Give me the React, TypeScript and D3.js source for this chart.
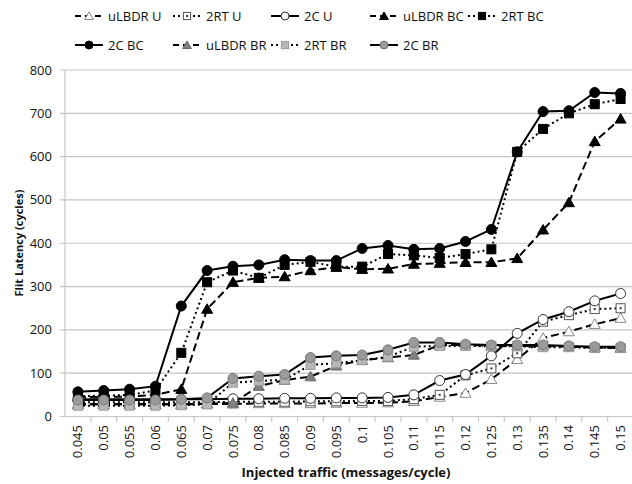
import React from 'react';
import * as d3 from 'd3';

const categories = ["0.045","0.05","0.055","0.06","0.065","0.07","0.075","0.08","0.085","0.09","0.095","0.1","0.105","0.11","0.115","0.12","0.125","0.13","0.135","0.14","0.145","0.15"];

const uLBDR_U = [28,28,28,28,28,29,29,30,30,30,31,31,32,35,45,54,86,132,181,196,213,227];
const twoRT_U = [33,33,33,33,33,33,34,34,34,35,35,36,36,40,50,95,111,146,219,234,248,250];
const twoC_U = [40,40,40,40,40,40,41,41,42,42,43,43,44,50,83,97,140,192,224,242,267,284];
const uLBDR_BC = [45,45,46,50,63,248,310,320,323,337,345,340,341,352,354,356,356,365,431,494,635,687];
const twoRT_BC = [47,48,50,60,147,310,337,320,350,357,346,346,375,372,366,375,386,611,664,700,721,733];
const twoC_BC = [57,60,63,70,255,337,347,350,362,360,360,388,395,386,388,404,432,611,704,706,748,746];
const uLBDR_BR = [28,28,28,28,28,30,31,70,84,92,117,130,136,142,165,165,163,163,163,161,159,158];
const twoRT_BR = [25,25,25,25,26,28,78,82,85,119,123,130,138,161,163,163,162,162,160,160,158,158];
const twoC_BR = [38,38,38,38,40,43,88,93,97,136,140,142,154,171,171,167,165,165,165,163,161,161];

const yTicks = [0,100,200,300,400,500,600,700,800];

type Series = { name: string; values: number[]; shape: string; dash: string; fill: string; stroke: string; dot?: boolean };

const series: Series[] = [
  { name: "uLBDR U", values: uLBDR_U, shape: "tri", dash: "8,4", fill: "#fff", stroke: "#888" },
  { name: "2RT U", values: twoRT_U, shape: "sq", dash: "2,3", fill: "#fff", stroke: "#555", dot: true },
  { name: "2C U", values: twoC_U, shape: "circ", dash: "", fill: "#fff", stroke: "#333" },
  { name: "uLBDR BC", values: uLBDR_BC, shape: "tri", dash: "8,4", fill: "#000", stroke: "#000" },
  { name: "2RT BC", values: twoRT_BC, shape: "sq", dash: "2,3", fill: "#000", stroke: "#000" },
  { name: "2C BC", values: twoC_BC, shape: "circ", dash: "", fill: "#000", stroke: "#000" },
  { name: "uLBDR BR", values: uLBDR_BR, shape: "tri", dash: "8,4", fill: "#808080", stroke: "#666" },
  { name: "2RT BR", values: twoRT_BR, shape: "sq", dash: "2,3", fill: "#b8b8b8", stroke: "#999" },
  { name: "2C BR", values: twoC_BR, shape: "circ", dash: "", fill: "#9a9a9a", stroke: "#777" },
];

const W = 632, H = 484;
const font = "'Open Sans', sans-serif";

function Marker({ s, x, y, k = 1 }: { s: Series; x: number; y: number; k?: number }) {
  if (s.shape === "circ") return <circle cx={x} cy={y} r={5 * k} fill={s.fill} stroke={s.stroke} strokeWidth={1} />;
  if (s.shape === "sq") {
    const h = 4.5 * k;
    return (
      <g>
        <rect x={x - h} y={y - h} width={2 * h} height={2 * h} fill={s.fill} stroke={s.stroke} strokeWidth={1} />
        {s.dot && <rect x={x - 1} y={y - 1} width={2} height={2} fill="#333" />}
      </g>
    );
  }
  const p = d3.symbol(d3.symbolTriangle, 52 * k * k)();
  return <path d={p || ""} transform={`translate(${x},${y + 1})`} fill={s.fill} stroke={s.stroke} strokeWidth={1} />;
}

export default function App() {
  const x = d3.scaleBand().domain(categories).range([65, 633.5]).padding(0);
  const y = d3.scaleLinear().domain([0, 800]).range([416.5, 70]);
  const cx = (c: string) => (x(c) || 0) + x.bandwidth() / 2;
  const line = d3.line<number>().x((_, i) => cx(categories[i])).y(d => y(d));

  const legX = [75, 173, 271, 370, 468];
  const legY = [16, 45];

  return (
    <div style={{ position: 'fixed', left: 0, top: 0 }}>
      <svg width={W} height={H} style={{ display: 'block', background: '#fff' }}>
        {/* grid */}
        {yTicks.map(t => (
          <g key={t}>
            <line x1={60} x2={W} y1={y(t)} y2={y(t)} stroke="#c6c6c6" strokeWidth={1.2} />
            <text x={52} y={y(t)} dy="0.35em" textAnchor="end" fontFamily={font} fontSize={13} fill="#111">{t}</text>
          </g>
        ))}
        <line x1={65} x2={65} y1={70} y2={416.5} stroke="#c6c6c6" strokeWidth={1.2} />
        {/* x ticks */}
        {categories.map(c => (
          <g key={c}>
            <line x1={(x(c) || 0) + x.bandwidth()} x2={(x(c) || 0) + x.bandwidth()} y1={416.5} y2={422} stroke="#c6c6c6" strokeWidth={1.2} />
            <text transform={`translate(${cx(c)},425) rotate(-90)`} dy="0.35em" textAnchor="end" fontFamily={font} fontSize={13} fill="#111">{c}</text>
          </g>
        ))}
        {/* lines */}
        {series.map(s => (
          <path key={s.name} d={line(s.values) || ""} fill="none" stroke="#000" strokeWidth={2} strokeDasharray={s.dash || undefined} />
        ))}
        {series.map(s => (
          <g key={s.name + "m"}>
            {s.values.map((v, i) => <Marker key={i} s={s} x={cx(categories[i])} y={y(v)} />)}
          </g>
        ))}
        {/* axis titles */}
        <text x={346} y={477} textAnchor="middle" fontFamily={font} fontSize={13} fontWeight="bold" fill="#111">Injected traffic (messages/cycle)</text>
        <text transform="translate(19,243) rotate(-90)" textAnchor="middle" dy="0.35em" fontFamily={font} fontSize={11} fontWeight="bold" fill="#111">Flit Latency (cycles)</text>
        {/* legend */}
        {series.map((s, i) => {
          const lx = legX[i % 5];
          const ly = legY[Math.floor(i / 5)];
          return (
            <g key={s.name + "l"}>
              <line x1={lx} x2={lx + 28} y1={ly} y2={ly} stroke="#000" strokeWidth={2} strokeDasharray={s.dash ? (s.dash === "2,3" ? "2,3" : "6,4") : undefined} />
              <Marker s={s} x={lx + 14} y={ly} k={0.8} />
              <text x={lx + 33} y={ly} dy="0.35em" fontFamily={font} fontSize={13} fill="#111">{s.name}</text>
            </g>
          );
        })}
      </svg>
    </div>
  );
}
